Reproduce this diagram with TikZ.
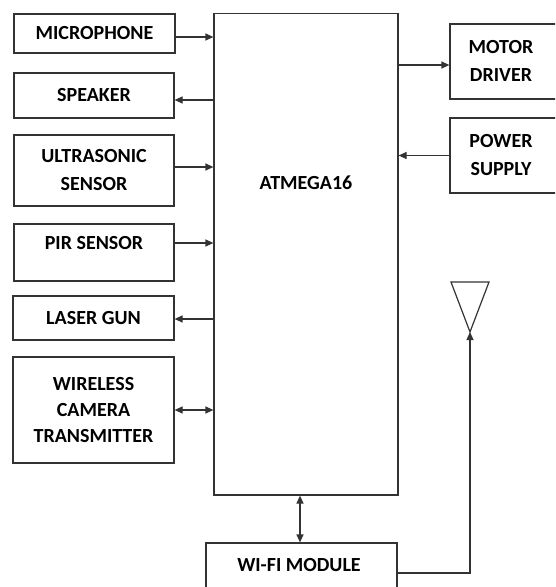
\documentclass[tikz,border=0pt]{standalone}
\usepackage{fontspec}
\setmainfont{Carlito}
\usetikzlibrary{arrows.meta}
\definecolor{ln}{HTML}{333333}
\tikzset{
  box/.style={draw=ln, line width=1.2pt, rectangle, inner sep=0pt},
  txt/.style={font=\fontsize{20}{28}\selectfont\bfseries, align=center, text=black},
  arr/.style={draw=ln, line width=1.2pt, -{Triangle[length=8pt,width=7pt]}},
  darr/.style={draw=ln, line width=1.2pt, {Triangle[length=8pt,width=7pt]}-{Triangle[length=8pt,width=7pt]}}
}
\begin{document}
\begin{tikzpicture}[x=1pt,y=1pt]
\useasboundingbox (0,0) rectangle (555,-587);
\clip (0,0) rectangle (555,-587);
% boxes
\node[box, txt, minimum width=161, minimum height=39] (mic) at (94.5,-33.5) {MICROPHONE};
\node[box, txt, minimum width=160, minimum height=45] (spk) at (94,-95.5) {SPEAKER};
\node[box, txt, minimum width=160, minimum height=71] (ultra) at (94,-170.5) {ULTRASONIC\\SENSOR};
\node[box, minimum width=160, minimum height=57] (pir) at (94,-252.5) {};
\node[txt] (pirt) at (94,-243) {PIR SENSOR};
\node[box, txt, minimum width=161, minimum height=44] (laser) at (93.5,-318) {LASER GUN};
\node[box, txt, minimum width=161, minimum height=106, font=\fontsize{20}{26}\selectfont\bfseries] (cam) at (93.5,-410) {WIRELESS\\CAMERA\\TRANSMITTER};
\node[box, minimum width=184, minimum height=481.5] (atm) at (306,-254.25) {};
\node[txt] (atmt) at (306,-183) {ATMEGA16};
\node[box, txt, minimum width=110, minimum height=75] (motor) at (505,-61.5) {};
\node[txt] at (501,-61) {MOTOR\\DRIVER};
\node[box, minimum width=110, minimum height=75] (power) at (505,-155.5) {};
\node[txt] at (501,-155) {POWER\\SUPPLY};
\node[box, minimum width=191, minimum height=52] (wifi) at (301.5,-569) {};
\node[txt] (wifit) at (299,-565) {WI-FI MODULE};
% antenna
\coordinate (apex) at (470,-332);
\coordinate (ta) at (451,-282);
\coordinate (tb) at (489,-282);
\draw[draw=ln, line width=1.2pt, line join=miter] (ta) -- (tb) -- (apex) -- cycle;
% connectors
\draw[arr] ([yshift=-3.5pt]mic.east) -- ([yshift=-3.5pt]mic.east -| atm.west);
\draw[arr] ([yshift=-4.5pt]spk.east -| atm.west) -- ([yshift=-4.5pt]spk.east);
\draw[arr] ([yshift=3.5pt]ultra.east) -- ([yshift=3.5pt]ultra.east -| atm.west);
\draw[arr] ([yshift=9.5pt]pir.east) -- ([yshift=9.5pt]pir.east -| atm.west);
\draw[arr] ([yshift=-1pt]laser.east -| atm.west) -- ([yshift=-1pt]laser.east);
\draw[darr] (cam.east) -- (cam.east -| atm.west);
\draw[arr] ([yshift=-3.5pt]motor.west -| atm.east) -- ([yshift=-3.5pt]motor.west);
\draw[arr] (power.west) -- (power.west -| atm.east);
\draw[darr] ([xshift=-1.5pt]wifi.north) -- ([xshift=-1.5pt]wifi.north |- atm.south);
\draw[arr, line join=miter] ([yshift=-4pt]wifi.east) -| (apex);
\end{tikzpicture}
\end{document}
